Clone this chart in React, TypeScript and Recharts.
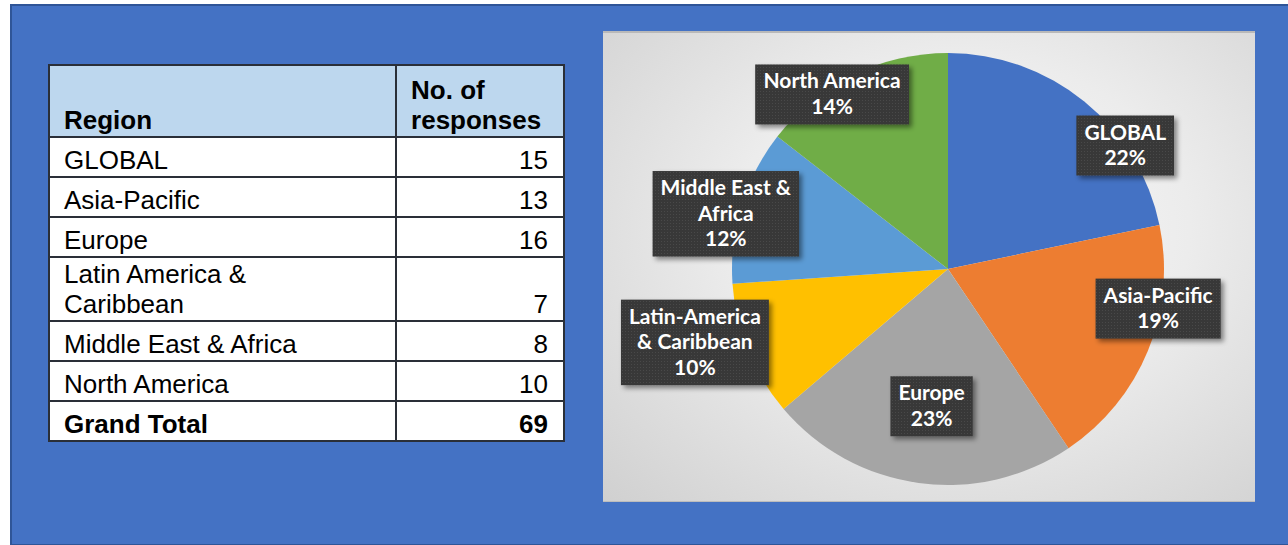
import React from "react";
import { PieChart, Pie, Cell } from "recharts";

const regions = ["GLOBAL", "Asia-Pacific", "Europe", "Latin America &\nCaribbean", "Middle East & Africa", "North America"];
const responses = [15, 13, 16, 7, 8, 10];
const sliceLabels = ["GLOBAL", "Asia-Pacific", "Europe", "Latin-America\n& Caribbean", "Middle East &\nAfrica", "North America"];
const sliceColors = ["#4472C4", "#ED7D31", "#A5A5A5", "#FFC000", "#5B9BD5", "#70AD47"];

// where each data label sits: share of the pie radius, and a clockwise nudge (deg) off the slice's mid angle
const labelSpots = [
  { r: 1.0, turn: 16 },
  { r: 0.99, turn: -11.5 },
  { r: 0.64, turn: -1 },
  { r: 1.22, turn: 6 },
  { r: 1.06, turn: -3 },
  { r: 0.97, turn: -7.5 },
];

const total = responses.reduce((a, b) => a + b, 0);
const rows = regions.map((r, i) => ({ name: r, value: responses[i], idx: i }));

const LBL_FAMILY = "Lato, 'Open Sans', sans-serif";
const LBL_SIZE = 21;
let ctx: CanvasRenderingContext2D | null = null;
function textWidth(s: string) {
  if (!ctx) ctx = document.createElement("canvas").getContext("2d");
  if (!ctx) return s.length * 10;
  ctx.font = `bold ${LBL_SIZE}px Lato`;
  return ctx.measureText(s).width;
}

function SliceLabel(props: any) {
  const { cx, cy, midAngle, outerRadius, percent } = props;
  const i = props.index ?? props.payload?.idx ?? 0;
  const spot = labelSpots[i];
  const a = ((midAngle - spot.turn) * Math.PI) / 180;
  const x = cx + outerRadius * spot.r * Math.cos(a);
  const y = cy - outerRadius * spot.r * Math.sin(a);
  const lines = [...sliceLabels[i].split("\n"), `${Math.round(percent * 100)}%`];
  const w = Math.max(...lines.map(textWidth)) + 16;
  const lh = 25.5;
  const h = lines.length * lh + 9;
  return (
    <g>
      <rect x={x - w / 2} y={y - h / 2} width={w} height={h} fill="url(#dots)" filter="url(#lblShadow)" />
      {lines.map((l, k) => (
        <text key={k} x={x} y={y - h / 2 + 24 + k * lh} textAnchor="middle" fill="#fff"
          fontFamily={LBL_FAMILY} fontWeight={700} fontSize={LBL_SIZE}>{l}</text>
      ))}
    </g>
  );
}

const cellBase: React.CSSProperties = {
  border: "2px solid #2a2f38", verticalAlign: "bottom", padding: "0 15px 1px 14px",
  lineHeight: "30px", whiteSpace: "pre-line",
};

function RegionTable() {
  return (
    <table style={{
      position: "absolute", left: 48, top: 64, width: 517, borderCollapse: "collapse",
      fontFamily: "'Liberation Sans', Arial, sans-serif", fontSize: 26, color: "#000", background: "#fff",
    }}>
      <colgroup><col style={{ width: 349 }} /><col style={{ width: 168 }} /></colgroup>
      <tbody>
        <tr style={{ height: 72, background: "#BDD7EE", fontWeight: 700 }}>
          <td style={cellBase}>Region</td>
          <td style={cellBase}>{"No. of\nresponses"}</td>
        </tr>
        {rows.map((r) => (
          <tr key={r.name} style={{ height: r.name.includes("\n") ? 64 : 40 }}>
            <td style={cellBase}>{r.name}</td>
            <td style={{ ...cellBase, textAlign: "right" }}>{r.value}</td>
          </tr>
        ))}
        <tr style={{ height: 40, fontWeight: 700 }}>
          <td style={cellBase}>Grand Total</td>
          <td style={{ ...cellBase, textAlign: "right" }}>{total}</td>
        </tr>
      </tbody>
    </table>
  );
}

export default function App() {
  return (
    <div style={{ position: "absolute", left: 0, top: 0, width: 1288, height: 545, background: "#fff", overflow: "hidden" }}>
      <svg width={0} height={0} style={{ position: "absolute" }}>
        <defs>
          <pattern id="dots" width={3} height={3} patternUnits="userSpaceOnUse">
            <rect width={3} height={3} fill="#383838" />
            <rect x={1} y={1} width={1} height={1} fill="#4a4a4a" />
          </pattern>
          <filter id="lblShadow" x="-20%" y="-20%" width="150%" height="150%">
            <feDropShadow dx={3} dy={3} stdDeviation={2.5} floodColor="#000" floodOpacity={0.45} />
          </filter>
        </defs>
      </svg>
      <div style={{
        position: "absolute", left: 10, top: 4, width: 1290, height: 538, background: "#4472C4",
        borderLeft: "2px solid #2F5597", borderTop: "2px solid #2F5597", borderBottom: "2px solid #2F5597",
      }} />
      <RegionTable />
      <div style={{
        position: "absolute", left: 603, top: 31, width: 652, height: 471,
        background: "radial-gradient(ellipse at 55% 42%, #fafafa 0%, #ececec 45%, #d0d0d0 100%)",
        borderTop: "2px solid #b9b9b9", borderBottom: "1px solid #bdbdbd", boxSizing: "border-box",
      }}>
        <PieChart width={652} height={471} margin={{ top: 0, right: 0, bottom: 0, left: 0 }}>
          <Pie data={rows} dataKey="value" nameKey="name" cx={345} cy={236} outerRadius={216}
            startAngle={90} endAngle={-270} stroke="none" label={SliceLabel} labelLine={false}
            isAnimationActive={false}>
            {rows.map((r, i) => <Cell key={r.name} fill={sliceColors[i]} />)}
          </Pie>
        </PieChart>
      </div>
    </div>
  );
}
